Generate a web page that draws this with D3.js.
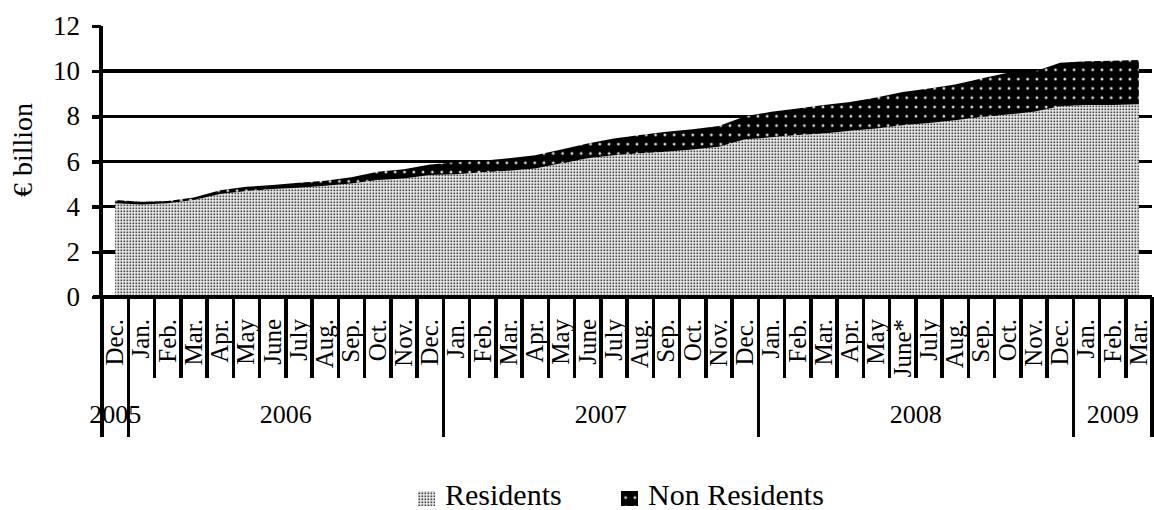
<!DOCTYPE html>
<html>
<head>
<meta charset="utf-8">
<script src="https://cdn.jsdelivr.net/npm/d3@7"></script>
<style>
  body { margin: 0; background: #fff; }
  svg text { font-family: "Liberation Serif", serif; fill: #000; }
  svg line, .domain { shape-rendering: crispEdges; }
</style>
</head>
<body>
<div class="chart"></div>
<script>
// data (€ billion)
const months = ["Dec.",
  "Jan.", "Feb.", "Mar.", "Apr.", "May", "June", "July", "Aug.", "Sep.", "Oct.", "Nov.", "Dec.",
  "Jan.", "Feb.", "Mar.", "Apr.", "May", "June", "July", "Aug.", "Sep.", "Oct.", "Nov.", "Dec.",
  "Jan.", "Feb.", "Mar.", "Apr.", "May", "June*", "July", "Aug.", "Sep.", "Oct.", "Nov.", "Dec.",
  "Jan.", "Feb.", "Mar."];
const years = ["2005", "2006", "2007", "2008", "2009"];
const yearMonthCounts = [1, 12, 12, 12, 3];
const residents = [4.15, 4.10, 4.15, 4.29, 4.56, 4.69, 4.78, 4.84, 4.93, 5.03, 5.18, 5.25, 5.40,
  5.44, 5.52, 5.59, 5.69, 5.92, 6.14, 6.28, 6.36, 6.43, 6.53, 6.65, 6.98,
  7.07, 7.17, 7.24, 7.36, 7.46, 7.61, 7.71, 7.83, 7.98, 8.08, 8.20, 8.45,
  8.50, 8.50, 8.53];
const nonResidents = [0.14, 0.12, 0.10, 0.12, 0.17, 0.19, 0.18, 0.22, 0.22, 0.27, 0.37, 0.41, 0.47,
  0.53, 0.51, 0.55, 0.59, 0.61, 0.66, 0.74, 0.81, 0.89, 0.90, 0.92, 1.02,
  1.13, 1.18, 1.26, 1.28, 1.37, 1.47, 1.52, 1.58, 1.70, 1.85, 1.77, 1.92,
  1.94, 1.96, 1.96];
const yTicks = [0, 2, 4, 6, 8, 10, 12];
const gridValues = [2, 4, 6, 8, 10];
const seriesNames = ["Residents", "Non Residents"];

const W = 1154, H = 510;
const plot = { left: 102, right: 1152, top: 26, bottom: 297 };
const LW = 3.5; // heavy line weight used everywhere

const svg = d3.select(".chart").append("svg")
  .attr("width", W).attr("height", H);

// patterns
const defs = svg.append("defs");
const pRes = defs.append("pattern").attr("id", "pat-res")
  .attr("patternUnits", "userSpaceOnUse").attr("width", 3).attr("height", 3);
pRes.append("rect").attr("width", 3).attr("height", 3).attr("fill", "#eee");
pRes.append("rect").attr("x", 0.5).attr("y", 0.5).attr("width", 1.7).attr("height", 1.7).attr("fill", "#444");

const pNon = defs.append("pattern").attr("id", "pat-non")
  .attr("patternUnits", "userSpaceOnUse").attr("width", 9.3).attr("height", 9.3);
pNon.append("rect").attr("width", 9.3).attr("height", 9.3).attr("fill", "#000");
pNon.append("circle").attr("cx", 4.6).attr("cy", 4.6).attr("r", 1.4).attr("fill", "#ddd");

// scales
const keys = months.map((m, i) => i);
const x = d3.scaleBand().domain(keys).range([plot.left, plot.right]).padding(0);
const cx = i => x(i) + x.bandwidth() / 2;
const y = d3.scaleLinear().domain([0, 12]).range([plot.bottom, plot.top]);

// grid lines
svg.selectAll(".grid").data(gridValues).enter().append("line")
  .attr("class", "grid")
  .attr("x1", plot.left).attr("x2", plot.right)
  .attr("y1", d => y(d)).attr("y2", d => y(d))
  .attr("stroke", "#000").attr("stroke-width", LW);

// stacked areas
const table = keys.map(i => ({ i: i, "Residents": residents[i], "Non Residents": nonResidents[i] }));
const stacked = d3.stack().keys(seriesNames)(table);
const area = d3.area()
  .x(d => cx(d.data.i))
  .y0(d => y(d[0]))
  .y1(d => y(d[1]));
const fills = { "Residents": "url(#pat-res)", "Non Residents": "url(#pat-non)" };
svg.selectAll(".layer").data(stacked).enter().append("path")
  .attr("class", "layer")
  .attr("d", area)
  .attr("fill", d => fills[d.key]);

// y axis
const yAxis = d3.axisLeft(y).tickValues(yTicks).tickSize(9).tickFormat(d3.format("d"));
const gy = svg.append("g").attr("transform", `translate(${plot.left - 1},0)`).call(yAxis);
gy.select(".domain").attr("stroke-width", LW).attr("d", `M0,${plot.top}V${plot.bottom + 1.5}`);
gy.selectAll(".tick line").attr("stroke-width", LW);
gy.selectAll(".tick text")
  .attr("x", -21)
  .style("font-family", "Liberation Serif, serif")
  .style("font-size", "27px")
  .style("fill", "#000");

// y axis title
svg.append("text")
  .attr("transform", `translate(32,150) rotate(-90)`)
  .attr("text-anchor", "middle")
  .style("font-size", "28px")
  .text("€ billion");

// x axis line
svg.append("line")
  .attr("x1", plot.left - 9).attr("x2", plot.right)
  .attr("y1", plot.bottom).attr("y2", plot.bottom)
  .attr("stroke", "#000").attr("stroke-width", LW);

// category boundaries: short ticks, long at year boundaries
const yearStarts = [0];
yearMonthCounts.forEach((c, k) => yearStarts.push(yearStarts[k] + c));
const boundaries = d3.range(months.length + 1);
svg.selectAll(".cat-tick").data(boundaries).enter().append("line")
  .attr("class", "cat-tick")
  .attr("x1", b => b < months.length ? x(b) : plot.right)
  .attr("x2", b => b < months.length ? x(b) : plot.right)
  .attr("y1", plot.bottom)
  .attr("y2", b => yearStarts.includes(b) ? 437 : 378)
  .attr("stroke", "#000").attr("stroke-width", LW);

// month labels
svg.selectAll(".month").data(keys).enter().append("text")
  .attr("class", "month")
  .attr("transform", i => `translate(${cx(i) + 8},319) rotate(-90)`)
  .attr("text-anchor", "end")
  .style("font-size", "25px")
  .text(i => months[i]);

// year labels
svg.selectAll(".year").data(years).enter().append("text")
  .attr("class", "year")
  .attr("x", (d, k) => {
    const a = x(yearStarts[k]);
    const b = yearStarts[k + 1] < months.length ? x(yearStarts[k + 1]) : plot.right;
    return (a + b) / 2;
  })
  .attr("y", 423)
  .attr("text-anchor", "middle")
  .style("font-size", "26px")
  .text(d => d);

// legend
const legendX = [418, 621];
const legend = svg.selectAll(".legend").data(seriesNames).enter().append("g")
  .attr("class", "legend")
  .attr("transform", (d, k) => `translate(${legendX[k]},0)`);
legend.append("rect")
  .attr("x", 0).attr("y", 491)
  .attr("width", 17).attr("height", 15)
  .attr("fill", d => fills[d]);
legend.append("text")
  .attr("x", 27).attr("y", 505)
  .style("font-size", "30px")
  .text(d => d);
</script>
</body>
</html>
